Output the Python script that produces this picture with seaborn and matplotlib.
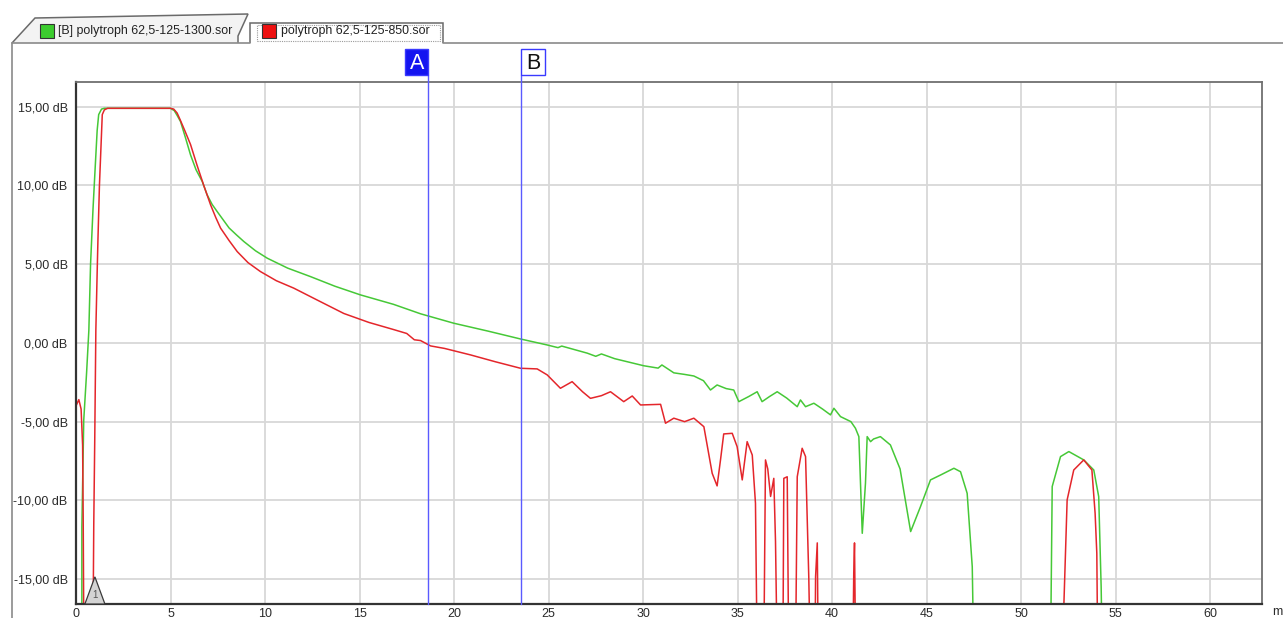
import numpy as np
import pandas as pd
import seaborn as sns
import matplotlib.pyplot as plt
from matplotlib.patches import Polygon, Rectangle
from matplotlib.lines import Line2D
from matplotlib.transforms import blended_transform_factory

# ---- trace data (distance in m, level in dB) ----
green_name = "[B] polytroph 62,5-125-1300.sor"
red_name = "polytroph 62,5-125-850.sor"

green_x = [0.31, 0.31, 0.41, 0.56, 0.68, 0.77, 0.90, 1.00, 1.12, 1.20, 1.35, 1.50,
           5.00, 5.20, 5.35, 5.53, 5.80, 6.06, 6.35, 6.68, 6.94, 7.20, 7.47, 8.10,
           8.50, 8.88, 9.50, 10.12, 11.20, 12.41, 13.70, 15.05, 16.80, 18.23, 19.99,
           21.80, 23.52, 24.93, 25.50, 25.70, 27.05, 27.50, 27.80, 28.50, 30.04, 30.80,
           31.00, 31.63, 32.20, 32.69, 33.20, 33.57, 33.92, 34.40, 34.80, 35.07, 35.60,
           36.04, 36.30, 36.70, 37.10, 37.60, 38.16, 38.33, 38.60, 39.04, 39.50, 39.92,
           40.10, 40.45, 41.00, 41.24, 41.42, 41.60, 41.77, 41.86, 42.04, 42.20, 42.56,
           43.09, 43.60, 44.16, 44.68, 45.21, 45.74, 46.45, 46.80, 47.15, 47.42, 47.50,
           51.56, 51.65, 52.09, 52.53, 53.32, 53.85, 54.11, 54.24, 54.30, 56.00]
green_db = [-20.0, -11.7, -4.9, -1.9, 0.8, 5.0, 8.5, 10.8, 13.5, 14.5, 14.85, 14.9,
            14.9, 14.75, 14.45, 14.06, 13.0, 11.94, 11.0, 10.25, 9.4, 8.8, 8.34, 7.3,
            6.85, 6.44, 5.85, 5.38, 4.75, 4.21, 3.6, 3.05, 2.45, 1.85, 1.25,
            0.75, 0.25, -0.13, -0.3, -0.2, -0.65, -0.85, -0.7, -1.0, -1.45, -1.6,
            -1.4, -1.9, -2.0, -2.1, -2.4, -2.99, -2.67, -2.9, -2.99, -3.73, -3.4,
            -3.1, -3.73, -3.4, -3.1, -3.5, -4.05, -3.62, -4.05, -3.83, -4.2, -4.57,
            -4.15, -4.68, -5.0, -5.42, -5.95, -12.09, -8.91, -5.95, -6.27, -6.1, -5.95,
            -6.48, -8.0, -11.98, -10.4, -8.7, -8.39, -7.96, -8.18, -9.55, -14.21, -20.0,
            -20.0, -9.12, -7.22, -6.9, -7.43, -8.07, -9.76, -15.5, -20.0, -20.0]

red_x = [0.00, 0.15, 0.27, 0.35, 0.38, 0.42, 0.89, 0.94, 0.99, 1.05, 1.12, 1.16,
         1.24, 1.39, 1.50, 1.67, 5.00, 5.17, 5.35, 5.50, 5.75, 6.06, 6.40, 6.76,
         7.12, 7.40, 7.65, 8.10, 8.53, 9.10, 9.76, 10.60, 11.52, 12.80, 14.17,
         15.50, 16.80, 17.50, 17.90, 18.23, 18.76, 19.50, 20.87, 22.20, 23.52, 24.40,
         24.93, 25.63, 26.25, 26.80, 27.22, 27.80, 28.28, 28.98, 29.43, 29.87, 30.93,
         31.19, 31.63, 32.20, 32.69, 33.22, 33.66, 33.92, 34.10, 34.27, 34.72, 34.98,
         35.25, 35.51, 35.78, 35.95, 36.04, 36.39, 36.48, 36.60, 36.75, 36.92, 37.01,
         37.10, 37.40, 37.45, 37.63, 37.71, 38.07, 38.16, 38.42, 38.60, 38.77, 38.85,
         39.10, 39.13, 39.22, 39.27, 41.10, 41.15, 41.19, 41.25, 52.18, 52.44, 52.79,
         53.32, 53.75, 53.92, 54.01, 54.06, 56.00]
red_db = [-4.0, -3.6, -4.2, -6.5, -11.0, -20.0, -20.0, -11.5, -6.35, 0.8, 4.5, 6.5,
          10.0, 14.5, 14.8, 14.9, 14.9, 14.85, 14.6, 14.2, 13.5, 12.6, 11.3, 10.0,
          8.77, 7.95, 7.29, 6.5, 5.8, 5.1, 4.53, 3.95, 3.48, 2.7, 1.87,
          1.3, 0.85, 0.6, 0.2, 0.15, -0.19, -0.35, -0.76, -1.2, -1.61, -1.65,
          -2.03, -2.88, -2.46, -3.1, -3.52, -3.35, -3.1, -3.73, -3.37, -3.94, -3.9,
          -5.1, -4.78, -5.0, -4.78, -5.32, -8.28, -9.08, -7.43, -5.78, -5.74, -6.59,
          -8.7, -6.27, -7.12, -10.18, -20.0, -20.0, -7.43, -8.0, -9.75, -8.6, -12.6,
          -20.0, -20.0, -8.6, -8.5, -20.0, -20.0, -8.5, -6.69, -7.22, -14.85, -20.0,
          -20.0, -14.85, -12.7, -20.0, -20.0, -14.6, -12.7, -20.0, -20.0, -9.97, -8.07,
          -7.43, -8.07, -10.82, -13.36, -20.0, -20.0]

y_ticks = [15, 10, 5, 0, -5, -10, -15]
y_tick_labels = ["15,00 dB", "10,00 dB", "5,00 dB", "0,00 dB", "-5,00 dB", "-10,00 dB", "-15,00 dB"]
x_ticks = [0, 5, 10, 15, 20, 25, 30, 35, 40, 45, 50, 55, 60]

cursor_a = 18.65
cursor_b = 23.57
event_1 = 1.0

GREEN = "#46c837"
RED = "#e4262b"

W, H = 1283, 618

sns.set_theme(style="white")
plt.rcParams["font.family"] = ["Liberation Sans", "DejaVu Sans"]

fig = plt.figure(figsize=(W / 100, H / 100), dpi=100)
fig.patch.set_facecolor("white")


def fpx(x, y):
    """Pixel position (origin top-left) to figure fraction."""
    return (x / W, 1 - y / H)


ax = fig.add_axes([76 / W, 1 - 604 / H, (1262 - 76) / W, (604 - 82) / H])

df = pd.concat([
    pd.DataFrame({"distance": green_x, "level": green_db, "trace": green_name}),
    pd.DataFrame({"distance": red_x, "level": red_db, "trace": red_name}),
], ignore_index=True)

sns.lineplot(data=df, x="distance", y="level", hue="trace",
             hue_order=[green_name, red_name],
             palette={green_name: GREEN, red_name: RED},
             sort=False, estimator=None, legend=False, linewidth=1.1, ax=ax)

ax.set_xlim(0, 62.75)
ax.set_ylim(-16.58, 16.57)
ax.set_xticks(x_ticks)
ax.set_xticklabels([str(v) for v in x_ticks])
ax.set_yticks(y_ticks)
ax.set_yticklabels(y_tick_labels)
ax.set_xlabel("")
ax.set_ylabel("")
ax.grid(True, color="#d8d8d8", linewidth=1.3)
ax.set_axisbelow(True)
ax.tick_params(axis="both", length=0, labelsize=9.0, colors="#2a2a2a")
ax.tick_params(axis="x", pad=3)
ax.tick_params(axis="y", pad=6)
for side in ("left", "bottom"):
    ax.spines[side].set_color("#333333")
    ax.spines[side].set_linewidth(1.6)
for side in ("top", "right"):
    ax.spines[side].set_color("#707070")
    ax.spines[side].set_linewidth(1.3)

fig.text(*fpx(1272, 612), "m", fontsize=9.0, color="#2a2a2a", ha="left", va="center")

# ---- cursors A and B ----
bt = blended_transform_factory(ax.transData, ax.transAxes)
box_w = 1.23
box_y0, box_h = 1.0134, 0.049
for xc, label, filled in ((cursor_a, "A", True), (cursor_b, "B", False)):
    ax.plot([xc, xc], [0, box_y0], transform=bt, color="#5a5aff", lw=1.0,
            clip_on=False, zorder=5)
    x0 = xc - box_w if filled else xc
    ax.add_patch(Rectangle((x0, box_y0), box_w, box_h, transform=bt,
                           facecolor="#1414f0" if filled else "white",
                           edgecolor="#3a3aff", lw=1.0, clip_on=False, zorder=6))
    ax.text(x0 + box_w / 2, box_y0 + box_h / 2 - 0.002, label, transform=bt,
            ha="center", va="center", fontsize=15.5,
            color="white" if filled else "#111111", clip_on=False, zorder=7)

# ---- event marker ----
ax.add_patch(Polygon([(event_1 - 0.53, 0.0), (event_1, 0.052), (event_1 + 0.53, 0.0)],
                     closed=True, transform=bt, facecolor="#d4d4d4",
                     edgecolor="#3a3a3a", lw=0.9, zorder=6, clip_on=False))
ax.text(event_1, 0.017, "1", transform=bt, ha="center", va="center",
        fontsize=7, color="#555555", zorder=7)

# ---- window frame and tabs ----
frame_col = "#8a8a8a"
fig.add_artist(Line2D([fpx(12, 43)[0], fpx(12, 618)[0]], [fpx(12, 43)[1], fpx(12, 618)[1]],
                      color=frame_col, lw=1.2))
fig.add_artist(Line2D([fpx(12, 43)[0], fpx(250, 43)[0]], [fpx(12, 43)[1]] * 2,
                      color=frame_col, lw=1.2))
fig.add_artist(Line2D([fpx(443, 43)[0], fpx(1283, 43)[0]], [fpx(443, 43)[1]] * 2,
                      color=frame_col, lw=1.2))

tab1 = [fpx(12, 43), fpx(35, 18), fpx(248, 14), fpx(238, 36), fpx(238, 43)]
fig.add_artist(Polygon(tab1, closed=False, transform=fig.transFigure,
                       facecolor="#f3f3f3", edgecolor="#6a6a6a", lw=1.1))
tab2 = [fpx(250, 43), fpx(250, 23), fpx(443, 23), fpx(443, 43)]
fig.add_artist(Polygon(tab2, closed=False, transform=fig.transFigure,
                       facecolor="white", edgecolor="#6a6a6a", lw=1.1))
# focus rectangle on active tab
fx0, fy0 = fpx(257, 41)
fx1, fy1 = fpx(440, 25)
fig.add_artist(Rectangle((fx0, fy0), fx1 - fx0, fy1 - fy0, transform=fig.transFigure,
                         facecolor="none", edgecolor="#9a9a9a", lw=0.8, linestyle=(0, (1, 1))))

for (sx, col, text, tx) in ((40, "#3ccc2e", green_name, 58), (262, "#ee1111", red_name, 281)):
    x0, y0 = fpx(sx, 38)
    x1, y1 = fpx(sx + 14, 24)
    fig.add_artist(Rectangle((x0, y0), x1 - x0, y1 - y0, transform=fig.transFigure,
                             facecolor=col, edgecolor="#333333", lw=0.8))
    fig.text(*fpx(tx, 31), text, fontsize=8.9, color="#222222", ha="left", va="center")

fig.savefig("out.png", dpi=100)
